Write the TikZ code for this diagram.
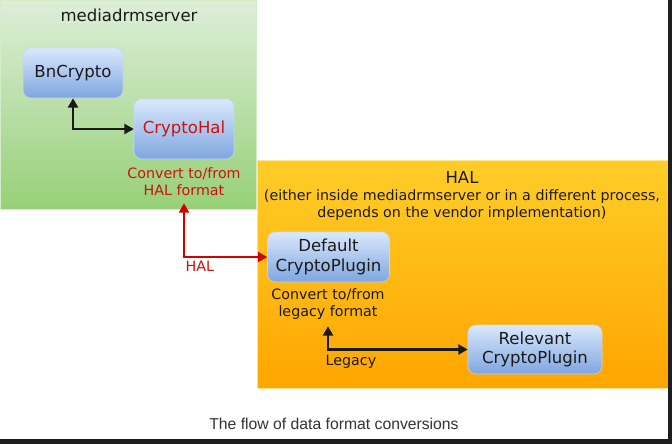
\documentclass[tikz,border=0pt]{standalone}
\usepackage{fontspec}
\setmainfont{DejaVu Sans}
\newfontfamily\capfont{Liberation Sans}
\usetikzlibrary{arrows.meta}
\definecolor{grtop}{HTML}{DDEED9}
\definecolor{grbot}{HTML}{97D077}
\definecolor{ortop}{HTML}{FFCD28}
\definecolor{orbot}{HTML}{FFA500}
\definecolor{bltop}{HTML}{DAE8FC}
\definecolor{blbot}{HTML}{7EA6E0}
\definecolor{blline}{HTML}{C6D7F0}
\definecolor{redtxt}{HTML}{CC1111}
\definecolor{redline}{HTML}{D60000}
\definecolor{txt}{HTML}{1A1A1A}
\definecolor{captxt}{HTML}{333333}
\definecolor{strip}{HTML}{1E1E1E}
\tikzset{
  boxnode/.style={rounded corners=6pt, top color=bltop, bottom color=blbot, draw=blline, line width=0.4pt,
    align=center, text=txt, font=\fontsize{12.4}{14.6}\selectfont, inner sep=0pt},
  smalltext/.style={align=center, font=\fontsize{10.7}{12.7}\selectfont, inner sep=0pt},
  conn/.style={line width=1.6pt, {Triangle[length=7pt,width=7.5pt]}-{Triangle[length=7pt,width=7.5pt]}},
  connlabel/.style={font=\fontsize{10.7}{12.4}\selectfont, inner sep=0pt},
}
\begin{document}
\begin{tikzpicture}[x=0.75pt,y=-0.75pt]
\useasboundingbox (0,0) rectangle (672,444);
\fill[white] (0,0) rectangle (672,444);
% containers
\shade[top color=grtop, bottom color=grbot] (0,0) rectangle (256,209);
\draw[white!60!grbot, line width=0.6pt] (0.3,0.3) rectangle (256,209);
\shade[top color=ortop, bottom color=orbot] (257,160) rectangle (668,388);
\draw[ortop!50!white, line width=0.6pt] (257,160) rectangle (668,388);
% titles
\node[text=txt, font=\fontsize{12.4}{14.6}\selectfont] (mtitle) at (129,15) {mediadrmserver};
\node[text=txt, font=\fontsize{12.4}{14.6}\selectfont] (htitle) at (462,177) {HAL};
\node[text=txt, align=center, font=\fontsize{10.7}{12.2}\selectfont] (hsub) at (462,205)
  {(either inside mediadrmserver or in a different process,\\depends on the vendor implementation)};
% boxes
\node[boxnode, minimum width=100*0.75pt, minimum height=50*0.75pt] (bn) at (73,73) {BnCrypto};
\node[boxnode, minimum width=100*0.75pt, minimum height=60*0.75pt, text=redtxt] (ch) at (184,129) {CryptoHal};
\node[boxnode, minimum width=122*0.75pt, minimum height=50*0.75pt] (def) at (328.5,257) {Default\\CryptoPlugin};
\node[boxnode, minimum width=134*0.75pt, minimum height=49*0.75pt] (rel) at (535,349.5) {Relevant\\CryptoPlugin};
% annotations
\node[smalltext, text=redtxt, minimum height=43*0.75pt] (cvh) at (184,181.5) {Convert to/from\\HAL format};
\node[smalltext, text=txt, minimum height=44*0.75pt] (cvl) at (328,304) {Convert to/from\\legacy format};
% connectors
\draw[conn, txt] (bn.south) |- (ch.west);
\draw[conn, redline] (cvh.south) |- (def.west) node[connlabel, pos=0.595, yshift=-9.5*0.75pt, text=redtxt] (hallbl) {HAL};
\draw[conn, txt] (cvl.south) |- (rel.west) node[connlabel, pos=0.582, yshift=-12*0.75pt, text=txt] (leglbl) {Legacy};
% caption
\node[text=captxt, font=\capfont\fontsize{11.8}{14}\selectfont] (cap) at (334,424) {The flow of data format conversions};
% dark strips
\fill[strip] (668,0) rectangle (672,444);
\fill[strip] (0,439) rectangle (672,444);
\end{tikzpicture}
\end{document}
